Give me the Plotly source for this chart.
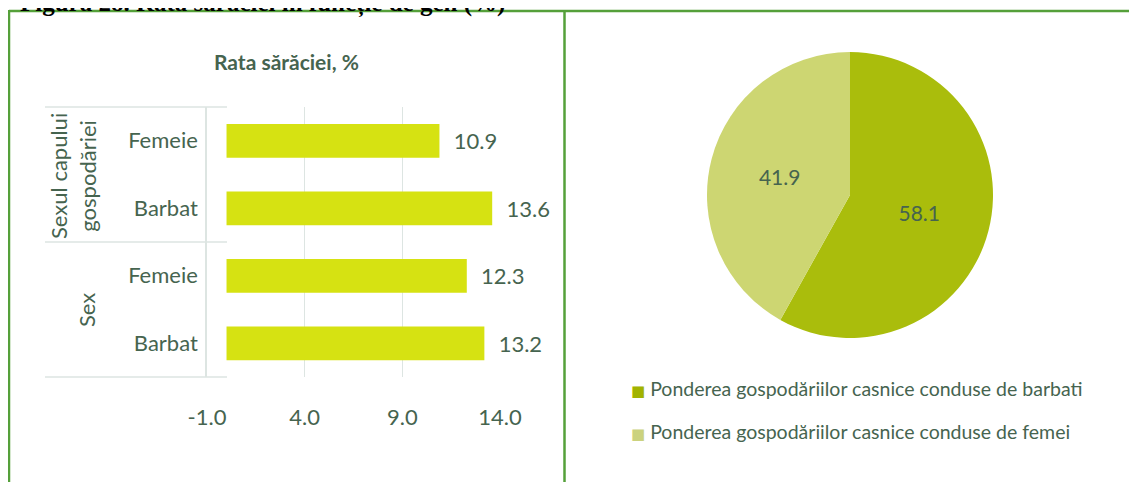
import plotly.graph_objects as go

# ---------------- data ----------------
groups = ["Sexul capului<br>gospodăriei", "Sexul capului<br>gospodăriei", "Sex", "Sex"]
labels = ["Femeie", "Barbat", "Femeie", "Barbat"]
rates = [10.9, 13.6, 12.3, 13.2]
x_ticks = [-1, 4, 9, 14]
x_tick_labels = ["-1.0", "4.0", "9.0", "14.0"]

pie_labels = ["Ponderea gospodăriilor casnice conduse de barbati",
              "Ponderea gospodăriilor casnice conduse de femei"]
pie_values = [58.1, 41.9]

bar_title = "Rata sărăciei, %"
fig_title = "Figura 28. Rata sărăciei în funcție de gen (%)"

# ---------------- styling ----------------
W, H = 1137, 482
OFF = 8  # page body margin
FONT = "Lato"
TXT = "#46644f"
GRID = "#dde5e2"
BORDER = "#55a03a"
BAR = "#d6e212"
PIE_COLORS = ["#aabd0c", "#cdd672"]
LEG_COLORS = ["#a2b300", "#cbd27e"]


def px(x):
    return (x - OFF) / W


def py(y):
    return 1 - (y - OFF) / H


ids = [f"{g}|{l}" for g, l in zip(groups, labels)]

fig = go.Figure()
fig.add_trace(go.Bar(
    x=rates, y=ids, orientation="h", width=0.5,
    marker=dict(color=BAR, line=dict(width=0)),
    text=[f"\u00a0\u00a0{v:.1f}" for v in rates], textposition="outside",
    textfont=dict(family=FONT, size=22, color=TXT),
    cliponaxis=False, showlegend=False, hoverinfo="skip",
))

fig.add_trace(go.Pie(
    values=pie_values, labels=pie_labels, sort=False, direction="clockwise",
    rotation=0, marker=dict(colors=PIE_COLORS, line=dict(width=0)),
    texttemplate="%{value:.1f}", textposition="inside",
    insidetextorientation="horizontal",
    textfont=dict(family=FONT, size=21, color=TXT),
    domain=dict(x=[px(705), px(995)], y=[py(338), py(52)]),
    showlegend=False, hoverinfo="skip",
))

shapes = []
# table borders
shapes.append(dict(type="line", xref="paper", yref="paper", x0=px(9), x1=1.0, y0=py(11), y1=py(11),
                   line=dict(color=BORDER, width=2.5)))
shapes.append(dict(type="line", xref="paper", yref="paper", x0=px(9), x1=px(9), y0=py(10), y1=0,
                   line=dict(color=BORDER, width=2.5)))
shapes.append(dict(type="line", xref="paper", yref="paper", x0=px(564.5), x1=px(564.5), y0=py(10), y1=0,
                   line=dict(color=BORDER, width=2.5)))
# category group dividers
for yy in (107, 242, 377):
    shapes.append(dict(type="line", xref="paper", yref="paper", x0=px(45), x1=px(227), y0=py(yy), y1=py(yy),
                       line=dict(color=GRID, width=1.5)))

annotations = [
    dict(text=f"<b>{fig_title}</b>", xref="paper", yref="paper", x=px(18), y=py(3),
         xanchor="left", yanchor="middle", showarrow=False,
         font=dict(family="Liberation Serif", size=25, color="#000000")),
    dict(text=f"<b>{bar_title}</b>", xref="paper", yref="paper", x=px(286), y=py(61),
         xanchor="center", yanchor="middle", showarrow=False,
         font=dict(family=FONT, size=21, color=TXT)),
    dict(text=groups[0], xref="paper", yref="paper", x=px(73), y=py(176),
         xanchor="center", yanchor="middle", showarrow=False, textangle=-90,
         font=dict(family=FONT, size=22, color=TXT)),
    dict(text=groups[2], xref="paper", yref="paper", x=px(86), y=py(310),
         xanchor="center", yanchor="middle", showarrow=False, textangle=-90,
         font=dict(family=FONT, size=22, color=TXT)),
]
for i, (lab, col) in enumerate(zip(pie_labels, LEG_COLORS)):
    annotations.append(dict(
        text=f"<span style='color:{col};font-size:15px;font-family:DejaVu Sans'>■</span> {lab}",
        xref="paper", yref="paper", x=px(629), y=py(388 + 43 * i),
        xanchor="left", yanchor="middle", showarrow=False,
        font=dict(family=FONT, size=19.5, color=TXT)))

fig.update_layout(
    width=W, height=H, margin=dict(l=0, r=0, t=0, b=0, pad=0, autoexpand=False),
    paper_bgcolor="white", plot_bgcolor="white",
    shapes=shapes, annotations=annotations,
    xaxis=dict(domain=[px(207), px(500)], range=[-1, 14], tickvals=x_ticks, ticktext=x_tick_labels,
               showgrid=True, gridcolor=GRID, gridwidth=1.2, zeroline=False, showline=False,
               ticks="", ticklabelstandoff=25, automargin=False,
               tickfont=dict(family=FONT, size=22, color=TXT)),
    yaxis=dict(domain=[py(377), py(107)], type="category", autorange="reversed",
               tickvals=ids, ticktext=labels, showgrid=False, zeroline=False,
               showline=True, linecolor=GRID, linewidth=1.5, ticks="",
               ticklabelstandoff=3, automargin=False,
               tickfont=dict(family=FONT, size=22, color=TXT)),
    bargap=0.5,
)

fig.write_html("out.html")
